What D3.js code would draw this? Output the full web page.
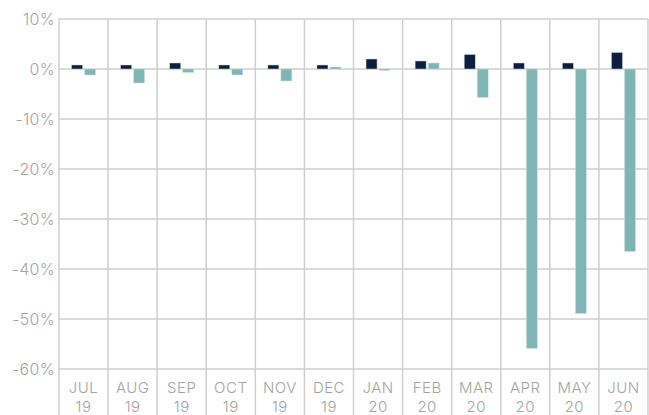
<!DOCTYPE html>
<html>
<head>
<meta charset="utf-8">
<script src="https://cdn.jsdelivr.net/npm/d3@7"></script>
<style>
  html, body { margin: 0; padding: 0; background: #fff; }
  svg { display: block; }
  .tick-label { font-family: Inter, "Open Sans", sans-serif; font-weight: 300; fill: #a3a3a3; }
</style>
</head>
<body>
<svg id="chart" width="649" height="415"></svg>
<script>
const months = ['JUL', 'AUG', 'SEP', 'OCT', 'NOV', 'DEC', 'JAN', 'FEB', 'MAR', 'APR', 'MAY', 'JUN'];
const years = ['19', '19', '19', '19', '19', '19', '20', '20', '20', '20', '20', '20'];
const darkValues = [0.8, 0.8, 1.2, 0.8, 0.8, 0.8, 2.0, 1.6, 2.9, 1.2, 1.2, 3.3];
const tealValues = [-1.2, -2.8, -0.7, -1.2, -2.4, 0.4, -0.3, 1.2, -5.7, -55.9, -48.9, -36.5];
const yTicks = [10, 0, -10, -20, -30, -40, -50, -60];

const svg = d3.select('#chart');
const width = 649;
const height = 415;
const margin = { top: 19, right: 1, bottom: 46, left: 59 };

const x = d3.scaleBand().domain(months).range([margin.left, width - margin.right]);
const y = d3.scaleLinear().domain([-60, 10]).range([height - margin.bottom, margin.top]);

const gridColor = '#cfcfcf';

// horizontal grid
svg.append('g')
  .selectAll('line')
  .data(yTicks)
  .enter()
  .append('line')
  .attr('x1', margin.left)
  .attr('x2', width - margin.right)
  .attr('y1', d => y(d))
  .attr('y2', d => y(d))
  .attr('stroke', gridColor)
  .attr('stroke-width', 1.5);

// vertical grid (band boundaries, down through label area)
const bounds = months.map(m => x(m)).concat([x(months[months.length - 1]) + x.bandwidth()]);
svg.append('g')
  .selectAll('line')
  .data(bounds)
  .enter()
  .append('line')
  .attr('x1', d => d)
  .attr('x2', d => d)
  .attr('y1', margin.top)
  .attr('y2', height)
  .attr('stroke', gridColor)
  .attr('stroke-width', 1.5);

// y labels
svg.append('g')
  .selectAll('text')
  .data(yTicks)
  .enter()
  .append('text')
  .attr('class', 'tick-label')
  .attr('x', margin.left - 4)
  .attr('y', d => y(d))
  .attr('dy', '0.36em')
  .attr('text-anchor', 'end')
  .attr('font-size', '16px')
  .attr('letter-spacing', '0.3px')
  .text(d => d + '%');

// bars
const barW = 11;
const gap = 2;
const groupOffset = (x.bandwidth() - (barW * 2 + gap)) / 2;

svg.append('g')
  .selectAll('rect')
  .data(darkValues)
  .enter()
  .append('rect')
  .attr('x', (d, i) => x(months[i]) + groupOffset)
  .attr('y', d => y(Math.max(0, d)))
  .attr('width', barW)
  .attr('height', d => Math.abs(y(d) - y(0)))
  .attr('fill', '#0b1f40')
  .attr('stroke', '#c9d0da')
  .attr('stroke-width', 0.5);

svg.append('g')
  .selectAll('rect')
  .data(tealValues)
  .enter()
  .append('rect')
  .attr('x', (d, i) => x(months[i]) + groupOffset + barW + gap)
  .attr('y', d => y(Math.max(0, d)))
  .attr('width', barW)
  .attr('height', d => Math.abs(y(d) - y(0)))
  .attr('fill', '#7fb5b5')
  .attr('stroke', '#cfe5e5')
  .attr('stroke-width', 0.5);

// x labels
const xl = svg.append('g')
  .selectAll('text')
  .data(months)
  .enter()
  .append('text')
  .attr('class', 'tick-label')
  .attr('x', d => x(d) + x.bandwidth() / 2)
  .attr('text-anchor', 'middle')
  .attr('font-size', '15px')
  .attr('letter-spacing', '0.5px');
xl.append('tspan')
  .attr('x', d => x(d) + x.bandwidth() / 2)
  .attr('y', 393)
  .text(d => d);
xl.append('tspan')
  .attr('x', d => x(d) + x.bandwidth() / 2)
  .attr('y', 412)
  .text((d, i) => years[i]);
</script>
</body>
</html>
